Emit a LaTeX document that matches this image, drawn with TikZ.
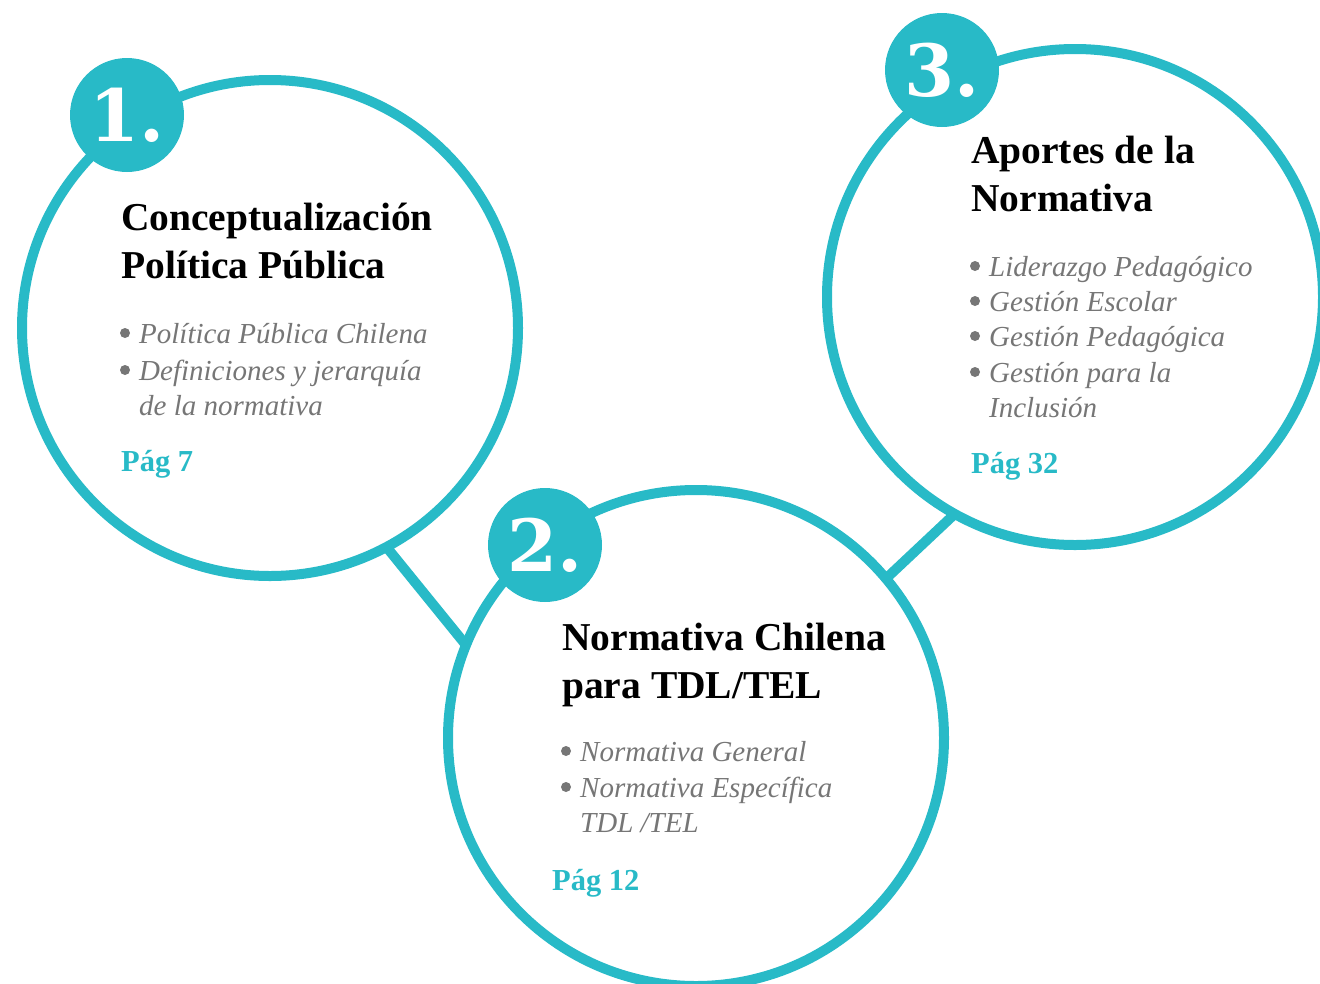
\documentclass[tikz,border=0pt]{standalone}
\usepackage{fontspec}
\setmainfont{Liberation Serif}
\newfontfamily\numfont{DejaVu Serif}
\definecolor{teal1}{RGB}{40,186,199}
\definecolor{txtgray}{RGB}{118,118,118}
\begin{document}
\begin{tikzpicture}[x=1pt,y=-1pt,
  ring/.style={circle,draw=teal1,line width=10pt,minimum size=496pt,inner sep=0pt,outer sep=0pt},
  badge/.style={circle,fill=teal1,minimum size=114pt,inner sep=0pt,text=white,font=\numfont\bfseries\fontsize{72}{72}\selectfont},
  link/.style={draw=teal1,line width=10pt},
  ttl/.style={anchor=base west,inner sep=0pt,font=\bfseries\fontsize{39.5}{48}\selectfont},
  itm/.style={anchor=base west,inner sep=0pt,text=txtgray,font=\itshape\fontsize{29}{35}\selectfont},
  dot/.style={circle,fill=txtgray,minimum size=10pt,inner sep=0pt},
  pg/.style={anchor=base west,inner sep=0pt,text=teal1,font=\bfseries\fontsize{30.5}{36}\selectfont}]
\useasboundingbox (0,0) rectangle (1320,983);
\clip (0,0) rectangle (1320,983);
% rings
\node[ring] (c1) at (270,328) {};
\node[ring] (c2) at (696,738) {};
\node[ring] (c3) at (1075,297) {};
% links
\draw[link] (c1.-62) -- (c2.158);
\draw[link] (c2.40) -- (c3.-119.5);
% badges
\node[badge] (b1) at (127,115) {1.};
\node[badge] (b2) at (545,545) {2.};
\node[badge] (b3) at (942,70) {3.};
% circle 1 text
\node[ttl] (t1a) at (121,230) {Conceptualización};
\node[ttl] (t1b) at (121,278) {Política Pública};
\node[dot] (d1a) at (125,333) {};
\node[itm] (i1a) at (139,343) {Política Pública Chilena};
\node[dot] (d1b) at (125,370) {};
\node[itm] (i1b) at (139,380) {Definiciones y jerarquía};
\node[itm] (i1c) at (139,415) {de la normativa};
\node[pg] (p1) at (121,471) {Pág 7};
% circle 2 text
\node[ttl] (t2a) at (562,650) {Normativa Chilena};
\node[ttl] (t2b) at (562,698) {para TDL/TEL};
\node[dot] (d2a) at (566,751) {};
\node[itm] (i2a) at (580,761) {Normativa General};
\node[dot] (d2b) at (566,787) {};
\node[itm] (i2b) at (580,797) {Normativa Específica};
\node[itm] (i2c) at (580,832) {TDL /TEL};
\node[pg] (p2) at (552,890) {Pág 12};
% circle 3 text
\node[ttl] (t3a) at (971,163) {Aportes de la};
\node[ttl] (t3b) at (971,211) {Normativa};
\node[dot] (d3a) at (975,266) {};
\node[itm] (i3a) at (989,276) {Liderazgo Pedagógico};
\node[dot] (d3b) at (975,301) {};
\node[itm] (i3b) at (989,311) {Gestión Escolar};
\node[dot] (d3c) at (975,336) {};
\node[itm] (i3c) at (989,346) {Gestión Pedagógica};
\node[dot] (d3d) at (975,372) {};
\node[itm] (i3d) at (989,382) {Gestión para la};
\node[itm] (i3e) at (989,417) {Inclusión};
\node[pg] (p3) at (971,473) {Pág 32};
\end{tikzpicture}
\end{document}
